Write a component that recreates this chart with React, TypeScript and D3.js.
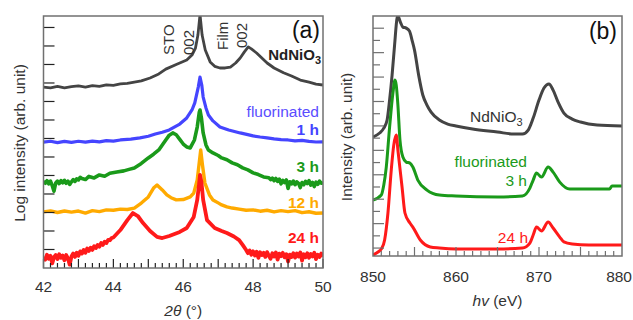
import * as d3 from "d3";

type Pt = [number, number];

// (a) XRD, 2theta (deg) vs log intensity (arb.)
const xrdTicks = [42, 44, 46, 48, 50];
const xrdNdNiO3: Pt[] = [
  [42.0, 9.78], [42.2, 9.74], [42.4, 9.82], [42.6, 9.74], [42.8, 9.8], [43.0, 9.84], [43.2, 9.78],
  [43.4, 9.86], [43.6, 9.82], [43.8, 9.9], [44.0, 9.87], [44.2, 9.95], [44.4, 9.98], [44.6, 10.05],
  [44.8, 10.11], [45.05, 10.27], [45.3, 10.49], [45.5, 10.75], [45.8, 11.0], [46.1, 11.24],
  [46.25, 11.51], [46.35, 11.89], [46.42, 12.59], [46.48, 13.7], [46.54, 12.59], [46.63, 11.78],
  [46.77, 11.14], [46.9, 10.9], [47.05, 10.81], [47.2, 10.81], [47.35, 10.86], [47.5, 11.08],
  [47.63, 11.35], [47.75, 11.68], [47.86, 11.95], [47.95, 11.84], [48.1, 11.62], [48.25, 11.35],
  [48.4, 11.08], [48.6, 10.81], [48.87, 10.55], [49.1, 10.38], [49.35, 10.16], [49.6, 10.05],
  [49.8, 9.94], [50.0, 9.89],
];
const xrd1h: Pt[] = [
  [42.0, 6.8], [42.2, 6.85], [42.4, 6.78], [42.6, 6.84], [42.8, 6.79], [43.0, 6.85], [43.2, 6.8],
  [43.4, 6.86], [43.6, 6.82], [43.8, 6.88], [44.0, 6.86], [44.2, 6.92], [44.5, 6.97], [44.76, 7.03],
  [45.0, 7.12], [45.2, 7.24], [45.4, 7.34], [45.6, 7.46], [45.9, 7.78], [46.1, 8.11], [46.25, 8.54],
  [46.33, 8.92], [46.43, 9.78], [46.48, 10.32], [46.53, 9.89], [46.57, 9.24], [46.65, 8.65],
  [46.72, 8.27], [46.85, 7.95], [47.05, 7.62], [47.3, 7.46], [47.63, 7.3], [48.0, 7.14],
  [48.2, 7.08], [48.4, 7.03], [48.6, 6.98], [48.8, 6.94], [49.0, 6.92], [49.2, 6.87], [49.4, 6.9],
  [49.6, 6.84], [49.8, 6.81], [50.0, 6.82],
];
const xrd3h: Pt[] = [
  [42.0, 4.7], [42.05, 4.58], [42.1, 4.72], [42.15, 4.55], [42.2, 4.7], [42.25, 4.45], [42.3, 4.15],
  [42.35, 4.6], [42.4, 4.7], [42.45, 4.56], [42.5, 4.72], [42.55, 4.6], [42.6, 4.74], [42.65, 4.58],
  [42.7, 4.7], [42.75, 4.52], [42.8, 4.66], [42.85, 4.78], [42.9, 4.68], [42.95, 4.82], [43.0, 4.76],
  [43.05, 4.9], [43.1, 4.84], [43.2, 4.78], [43.3, 4.95], [43.45, 4.87], [43.6, 5.03], [43.75, 4.96],
  [43.9, 5.12], [44.1, 5.19], [44.3, 5.25], [44.45, 5.33], [44.6, 5.41], [44.8, 5.65], [45.0, 5.95],
  [45.15, 6.15], [45.3, 6.38], [45.5, 6.92], [45.6, 7.18], [45.7, 7.3], [45.8, 7.2], [45.9, 6.95],
  [46.0, 6.7], [46.1, 6.54], [46.2, 6.49], [46.32, 6.92], [46.4, 7.62], [46.46, 8.43], [46.48, 8.54],
  [46.52, 8.11], [46.57, 7.3], [46.65, 6.65], [46.72, 6.38], [46.85, 6.22], [47.0, 6.08],
  [47.1, 5.95], [47.25, 5.85], [47.4, 5.68], [47.55, 5.58], [47.7, 5.41], [47.85, 5.3], [48.0, 5.14],
  [48.15, 5.05], [48.3, 4.92], [48.45, 4.88], [48.5, 4.78], [48.55, 4.86], [48.6, 4.72],
  [48.65, 4.84], [48.7, 4.68], [48.75, 4.8], [48.8, 4.55], [48.85, 4.74], [48.9, 4.62],
  [48.95, 4.76], [49.0, 4.3], [49.05, 4.66], [49.1, 4.55], [49.15, 4.7], [49.2, 4.5], [49.25, 4.66],
  [49.3, 4.58], [49.35, 4.35], [49.4, 4.62], [49.45, 4.5], [49.5, 4.68], [49.55, 4.56], [49.6, 4.72],
  [49.65, 4.48], [49.7, 4.62], [49.75, 4.4], [49.8, 4.64], [49.85, 4.52], [49.9, 4.7], [49.95, 4.58],
  [50.0, 4.62],
];
const xrd12h: Pt[] = [
  [42.0, 3.03], [42.2, 3.09], [42.4, 3.0], [42.6, 3.08], [42.8, 3.02], [43.0, 3.08], [43.2, 2.97],
  [43.4, 3.1], [43.6, 3.05], [43.8, 3.14], [44.0, 3.12], [44.2, 3.18], [44.4, 3.16], [44.6, 3.24],
  [44.8, 3.51], [45.0, 3.84], [45.15, 4.32], [45.25, 4.49], [45.4, 4.22], [45.53, 3.95],
  [45.65, 3.8], [45.8, 3.68], [46.0, 3.7], [46.2, 3.84], [46.3, 4.05], [46.4, 4.76], [46.45, 5.57],
  [46.5, 6.38], [46.55, 5.57], [46.62, 4.59], [46.75, 3.95], [46.85, 3.68], [47.0, 3.52],
  [47.1, 3.41], [47.25, 3.3], [47.4, 3.24], [47.6, 3.18], [47.8, 3.12], [48.0, 3.14], [48.2, 3.07],
  [48.4, 3.12], [48.6, 3.03], [48.8, 3.1], [49.0, 3.05], [49.2, 3.1], [49.4, 2.99], [49.6, 3.04],
  [49.8, 2.96], [50.0, 2.97],
];
const xrd24h: Pt[] = [
  [42.0, 0.6], [42.05, 0.45], [42.1, 0.72], [42.15, 0.5], [42.2, 0.66], [42.25, 0.25], [42.3, 0.58],
  [42.35, 0.7], [42.4, 0.48], [42.45, 0.74], [42.5, 0.55], [42.55, 0.68], [42.6, 0.42], [42.65, 0.7],
  [42.7, 0.52], [42.75, 0.18], [42.8, 0.62], [42.85, 0.78], [42.9, 0.6], [42.95, 0.82], [43.0, 0.66],
  [43.05, 0.9], [43.1, 0.78], [43.15, 0.98], [43.2, 0.82], [43.25, 1.05], [43.3, 0.92], [43.35, 1.1],
  [43.4, 0.98], [43.45, 1.18], [43.5, 1.08], [43.55, 1.25], [43.6, 1.15], [43.65, 1.35], [43.7, 1.25],
  [43.75, 1.42], [43.8, 1.35], [43.85, 1.52], [43.9, 1.5], [43.95, 1.62], [44.0, 1.65], [44.2, 2.05],
  [44.4, 2.59], [44.56, 2.97], [44.7, 2.81], [44.85, 2.43], [45.05, 2.0], [45.25, 1.68], [45.4, 1.62],
  [45.6, 1.73], [45.9, 1.95], [46.1, 2.16], [46.3, 2.76], [46.4, 3.68], [46.45, 4.49], [46.48, 5.03],
  [46.52, 4.65], [46.57, 3.68], [46.68, 2.59], [46.9, 2.16], [47.1, 2.0], [47.25, 1.89], [47.45, 1.7],
  [47.6, 1.51], [47.7, 1.25], [47.8, 0.97], [47.85, 0.8], [47.9, 0.95], [47.95, 0.72], [48.0, 0.9],
  [48.05, 0.68], [48.1, 0.88], [48.15, 0.55], [48.2, 0.85], [48.25, 0.7], [48.3, 0.82], [48.35, 0.6],
  [48.4, 0.86], [48.45, 0.66], [48.5, 0.5], [48.55, 0.8], [48.6, 0.62], [48.65, 0.84], [48.7, 0.45],
  [48.75, 0.78], [48.8, 0.64], [48.85, 0.82], [48.9, 0.58], [48.95, 0.75], [49.0, 0.35], [49.05, 0.72],
  [49.1, 0.6], [49.15, 0.8], [49.2, 0.56], [49.25, 0.78], [49.3, 0.62], [49.35, 0.84], [49.4, 0.4],
  [49.45, 0.74], [49.5, 0.58], [49.55, 0.8], [49.6, 0.55], [49.65, 0.76], [49.7, 0.62], [49.75, 0.82],
  [49.8, 0.48], [49.85, 0.72], [49.9, 0.6], [49.95, 0.78], [50.0, 0.62],
];

// (b) XAS, photon energy (eV) vs intensity (arb.)
const xasTicks = [850, 860, 870, 880];
const xasNdNiO3: Pt[] = [
  [850, 9.09], [850.8, 9.42], [851.3, 9.82], [851.7, 10.48], [852.0, 12.12], [852.3, 14.16],
  [852.6, 16.62], [852.9, 18.83], [853.0, 18.99], [853.3, 18.5], [853.6, 18.09], [854.0, 18.01],
  [854.4, 17.76], [854.7, 17.03], [855.0, 16.21], [855.5, 14.16], [856.0, 12.53], [856.5, 11.71],
  [857, 11.13], [858, 10.48], [859, 10.15], [860, 9.99], [862, 9.74], [865, 9.5], [867, 9.33],
  [868, 9.33], [868.7, 9.66], [869.3, 10.64], [870.0, 12.12], [870.6, 13.1], [871.2, 13.43],
  [871.7, 12.93], [872.3, 11.95], [873, 11.05], [874, 10.56], [875, 10.32], [877, 10.07],
  [880, 9.99],
];
const xas3h: Pt[] = [
  [850, 3.93], [851, 4.34], [851.3, 5.16], [851.6, 6.63], [852.0, 9.91], [852.4, 12.69],
  [852.65, 13.75], [852.8, 13.34], [853.0, 11.71], [853.25, 8.84], [853.6, 7.45], [854.0, 7.04],
  [854.45, 6.96], [854.8, 6.63], [855.4, 5.57], [856.5, 4.75], [858, 4.34], [860, 4.26],
  [865, 4.18], [868, 4.26], [868.9, 4.91], [869.3, 5.57], [869.7, 6.14], [870.3, 5.81],
  [871.1, 6.63], [871.7, 6.22], [872.5, 5.4], [873.7, 4.83], [876, 4.83], [878.5, 4.83],
  [878.8, 5.08], [880, 5.08],
];
const xas24h: Pt[] = [
  [850, -0.57], [850.6, -0.32], [851.0, -0.08], [851.4, 0.66], [851.8, 2.87], [852.2, 6.39],
  [852.5, 8.43], [852.8, 9.25], [853.0, 8.02], [853.5, 5.0], [853.85, 2.87], [854.45, 2.05],
  [854.8, 1.72], [855.7, 0.66], [856.9, 0.09], [858, 0.0], [860, -0.08], [865, -0.08], [868, 0.0],
  [868.9, 0.41], [869.3, 1.07], [869.7, 1.72], [870.3, 1.4], [871.1, 2.13], [871.7, 1.64],
  [872.5, 0.9], [873, 0.5], [874, 0.33], [876, 0.25], [880, 0.25],
];

const FONT = "'Liberation Sans', Arial, sans-serif";
const AXIS = "#707070";
const TXT = "#333";

const boxA = { left: 43.5, right: 323, top: 16, bottom: 268 };
const boxB = { left: 373, right: 622, top: 16, bottom: 256 };

const xA = d3.scaleLinear().domain([42, 50]).range([boxA.left, boxA.right]);
const yA = d3.scaleLinear().domain([0, 13.62]).range([boxA.bottom, boxA.top]);
const xB = d3.scaleLinear().domain([850, 880]).range([boxB.left, boxB.right]);
const yB = d3.scaleLinear().domain([-0.65, 19]).range([boxB.bottom, boxB.top]);

const lineA = d3.line<Pt>().x((d) => xA(d[0])).y((d) => yA(d[1]));
const lineB = d3
  .line<Pt>()
  .x((d) => xB(d[0]))
  .y((d) => yB(d[1]))
  .curve(d3.curveMonotoneX);

const seriesA = [
  { data: xrdNdNiO3, color: "#444444", w: 2.8 },
  { data: xrd1h, color: "#4545ff", w: 3.2 },
  { data: xrd3h, color: "#1a9a1a", w: 3.6 },
  { data: xrd12h, color: "#ffaa00", w: 3.4 },
  { data: xrd24h, color: "#ff1a1a", w: 3.8 },
];
const seriesB = [
  { data: xasNdNiO3, color: "#444444" },
  { data: xas3h, color: "#1a9a1a" },
  { data: xas24h, color: "#ff1a1a" },
];

const App = () => {
  const minorA = d3.range(42, 50.001, 0.2);
  const minorB = d3.range(851, 880, 1);
  const yTicksA = d3.range(1, 14);
  const yTicksB = d3.range(0, 19);

  return (
    <svg
      width={633}
      height={320}
      style={{ position: "absolute", left: 0, top: 0, background: "#fff" }}
      fontFamily={FONT}
    >
      <defs>
        <clipPath id="clipA">
          <rect x={boxA.left} y={boxA.top} width={boxA.right - boxA.left} height={boxA.bottom - boxA.top} />
        </clipPath>
        <clipPath id="clipB">
          <rect x={boxB.left} y={boxB.top} width={boxB.right - boxB.left} height={boxB.bottom - boxB.top} />
        </clipPath>
      </defs>

      {/* ---------- panel (a) ---------- */}
      <g clipPath="url(#clipA)">
        {seriesA.map((s, i) => (
          <path key={i} d={lineA(s.data) ?? ""} fill="none" stroke={s.color} strokeWidth={s.w} strokeLinejoin="round" />
        ))}
      </g>
      {minorA.map((t, i) => {
        const r = Math.round(t * 10) / 10;
        const len = Math.abs(r - Math.round(r)) < 1e-6 ? 9 : 5;
        return (
          <line key={i} x1={xA(r)} x2={xA(r)} y1={boxA.bottom} y2={boxA.bottom - len} stroke="#222" strokeWidth={1.2} />
        );
      })}
      {yTicksA.map((t) => (
        <line key={t} x1={boxA.left} x2={boxA.left + 11} y1={yA(t)} y2={yA(t)} stroke="#222" strokeWidth={1.2} />
      ))}
      <rect
        x={boxA.left}
        y={boxA.top}
        width={boxA.right - boxA.left}
        height={boxA.bottom - boxA.top}
        fill="none"
        stroke={AXIS}
        strokeWidth={1.5}
      />
      {xrdTicks.map((t) => (
        <text key={t} x={xA(t)} y={292} textAnchor="middle" fontSize={15.5} fill={TXT}>
          {t}
        </text>
      ))}
      <text x={xA(46)} y={316} textAnchor="middle" fontSize={15.5} fill={TXT}>
        <tspan fontStyle="italic">2θ</tspan> (°)
      </text>
      <text transform="translate(25,143) rotate(-90)" textAnchor="middle" fontSize={15.5} fill={TXT}>
        Log intensity (arb. unit)
      </text>

      <text transform="translate(174,55) rotate(-90)" fontSize={15} fill={TXT}>STO</text>
      <text transform="translate(194,55) rotate(-90)" fontSize={15} fill={TXT}>002</text>
      <text transform="translate(228,50) rotate(-90)" fontSize={15} fill={TXT}>Film</text>
      <text transform="translate(247,48) rotate(-90)" fontSize={15} fill={TXT}>002</text>
      <text x={320} y={38} textAnchor="end" fontSize={23} fill="#111">(a)</text>

      <text x={321} y={60} textAnchor="end" fontSize={15} fontWeight="bold" fill="#222">
        NdNiO<tspan fontSize={11} dy={4}>3</tspan>
      </text>
      <text x={319} y={117} textAnchor="end" fontSize={15.5} fill="#5a4dff">fluorinated</text>
      <text x={319} y={135} textAnchor="end" fontSize={15.5} fontWeight="bold" fill="#4545ff">1 h</text>
      <text x={319} y={172} textAnchor="end" fontSize={15.5} fontWeight="bold" fill="#1a9a1a">3 h</text>
      <text x={319} y={208} textAnchor="end" fontSize={15.5} fontWeight="bold" fill="#ffaa00">12 h</text>
      <text x={319} y={243} textAnchor="end" fontSize={15.5} fontWeight="bold" fill="#ff1a1a">24 h</text>

      {/* ---------- panel (b) ---------- */}
      <g clipPath="url(#clipB)">
        {seriesB.map((s, i) => (
          <path key={i} d={lineB(s.data) ?? ""} fill="none" stroke={s.color} strokeWidth={3} strokeLinejoin="round" />
        ))}
      </g>
      {minorB.map((t) => (
        <line
          key={t}
          x1={xB(t)}
          x2={xB(t)}
          y1={boxB.bottom}
          y2={boxB.bottom - (t % 5 === 0 ? 9 : 5)}
          stroke={AXIS}
          strokeWidth={1.2}
        />
      ))}
      {yTicksB.map((t) => (
        <line
          key={t}
          x1={boxB.left}
          x2={boxB.left + (t % 2 === 0 ? 11 : 7)}
          y1={yB(t)}
          y2={yB(t)}
          stroke={AXIS}
          strokeWidth={1.2}
        />
      ))}
      <rect
        x={boxB.left}
        y={boxB.top}
        width={boxB.right - boxB.left}
        height={boxB.bottom - boxB.top}
        fill="none"
        stroke={AXIS}
        strokeWidth={1.5}
      />
      {xasTicks.map((t, i) => (
        <text
          key={t}
          x={i === xasTicks.length - 1 ? 632 : xB(t)}
          y={282}
          textAnchor={i === xasTicks.length - 1 ? "end" : "middle"}
          fontSize={15.5}
          fill={TXT}
        >
          {t}
        </text>
      ))}
      <text x={xB(865)} y={306} textAnchor="middle" fontSize={15.5} fill={TXT}>
        <tspan fontStyle="italic">hv</tspan> (eV)
      </text>
      <text transform="translate(352,137) rotate(-90)" textAnchor="middle" fontSize={15.5} fill={TXT}>
        Intensity (arb. unit)
      </text>
      <text x={617} y={39} textAnchor="end" fontSize={23} fill="#111">(b)</text>

      <text x={470} y={122} fontSize={15.5} fill="#333">
        NdNiO<tspan fontSize={11} dy={4}>3</tspan>
      </text>
      <text x={527} y={167} textAnchor="end" fontSize={15.5} fill="#1a9a1a">fluorinated</text>
      <text x={527} y={186} textAnchor="end" fontSize={15.5} fill="#1a9a1a">3 h</text>
      <text x={528} y={243} textAnchor="end" fontSize={15.5} fill="#ff1a1a">24 h</text>
    </svg>
  );
};

export default App;
